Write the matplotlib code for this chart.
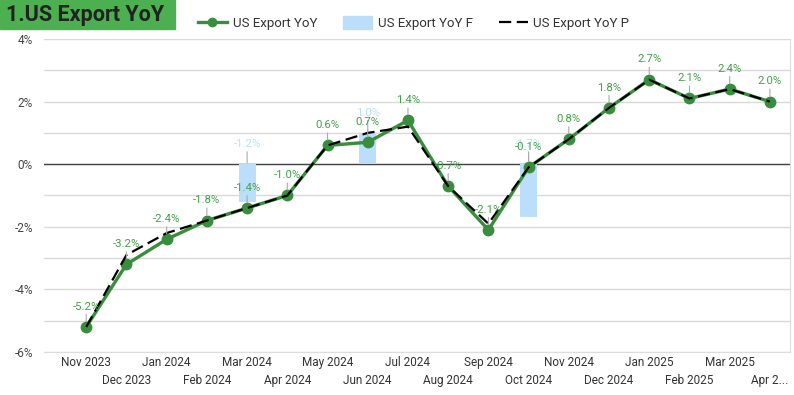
import matplotlib
matplotlib.use("Agg")
import matplotlib.pyplot as plt
from matplotlib.lines import Line2D
from matplotlib.patches import Patch, Rectangle

plt.rcParams['font.family'] = ['Roboto', 'DejaVu Sans']

months = ['Nov 2023', 'Dec 2023', 'Jan 2024', 'Feb 2024', 'Mar 2024',
          'Apr 2024', 'May 2024', 'Jun 2024', 'Jul 2024', 'Aug 2024',
          'Sep 2024', 'Oct 2024', 'Nov 2024', 'Dec 2024', 'Jan 2025',
          'Feb 2025', 'Mar 2025', 'Apr 2...']
export_yoy = [-5.2, -3.2, -2.4, -1.8, -1.4, -1.0, 0.6, 0.7, 1.4, -0.7,
              -2.1, -0.1, 0.8, 1.8, 2.7, 2.1, 2.4, 2.0]
export_yoy_p = [-5.2, -2.9, -2.2, -1.8, -1.4, -1.0, 0.6, 1.0, 1.2, -0.7,
                -1.9, -0.1, 0.8, 1.8, 2.7, 2.1, 2.4, 2.0]
# forecast bars: month index -> value
fc_idx = [4, 7, 11]
fc_val = [-1.2, 1.0, -1.7]

GREEN = '#388e3c'
LABEL_GREEN = '#43a047'
BLUE = '#bbdefb'
W, H = 794, 395

fig = plt.figure(figsize=(W / 100, H / 100), dpi=100)
ax = fig.add_axes([44 / W, 43 / H, (790 - 44) / W, (352 - 39) / H])

x = list(range(len(months)))

ax.bar(fc_idx, fc_val, width=0.42, color=BLUE, zorder=2)
ax.plot(x, export_yoy, color=GREEN, lw=2.4, marker='o', ms=7.5, zorder=4)
ax.plot(x, export_yoy_p, color='black', lw=1.6, ls=(0, (5.5, 2.5)), zorder=5)

# bar labels
for i, v in zip(fc_idx, fc_val):
    ax.annotate('{:.1f}%'.format(v), xy=(i, max(v, 0)), xytext=(0, 11),
                textcoords='offset points', ha='center', va='bottom',
                fontsize=8.2, color=BLUE,
                arrowprops=dict(arrowstyle='-', color='#aaaaaa', lw=0.8,
                                shrinkA=0, shrinkB=1), zorder=3)

# line labels
for i, v in enumerate(export_yoy):
    ax.annotate('{:.1f}%'.format(v), xy=(i, v), xytext=(0, 11),
                textcoords='offset points', ha='center', va='bottom',
                fontsize=8.2, color=LABEL_GREEN,
                arrowprops=dict(arrowstyle='-', color='#aaaaaa', lw=0.8,
                                shrinkA=0, shrinkB=4), zorder=6)

ax.set_xlim(-1.05, 17.5)
ax.set_ylim(-6, 4)
ax.set_yticks(range(-6, 5, 2))
ax.set_yticklabels(['{}%'.format(t) for t in range(-6, 5, 2)])
ax.set_yticks(range(-6, 5), minor=True)
ax.grid(True, which='both', axis='y', color='#d9d9d9', lw=1)
ax.axhline(0, color='#444444', lw=1, zorder=1)
ax.set_axisbelow(True)

# month labels staggered on two rows
ax.set_xticks(x[0::2])
ax.set_xticklabels(months[0::2])
ax.set_xticks(x[1::2], minor=True)
ax.set_xticklabels(months[1::2], minor=True)
ax.tick_params(axis='x', which='major', length=0, labelsize=8.5,
               colors='#333333', pad=3)
ax.tick_params(axis='x', which='minor', length=0, labelsize=8.5,
               colors='#333333', pad=16)
ax.tick_params(axis='y', which='both', length=0, labelsize=8.5,
               colors='#444444', pad=8)
for s in ['top', 'left']:
    ax.spines[s].set_visible(False)
ax.spines['right'].set_color('#dddddd')
ax.spines['bottom'].set_color('#dddddd')

# title box
fig.patches.append(Rectangle((0, (H - 29) / H), 175 / W, 29 / H,
                             transform=fig.transFigure, color='#4caf50',
                             zorder=0))
fig.text(6 / W, (H - 15) / H, '1.US Export YoY', fontsize=15.5,
         fontweight='bold', color='#222222', va='center', ha='left')

handles = [Line2D([], [], color=GREEN, lw=2.4, marker='o', ms=6),
           Patch(color=BLUE),
           Line2D([], [], color='black', lw=1.6, ls=(0, (5.5, 2.5)))]
fig.legend(handles, ['US Export YoY', 'US Export YoY F', 'US Export YoY P'],
           loc='center left', bbox_to_anchor=(186 / W, (H - 23) / H),
           ncol=3, frameon=False, fontsize=9.5, handlelength=2.2,
           handleheight=1.1, columnspacing=1.95, handletextpad=0.45,
           labelcolor='#333333')

fig.savefig('out.png', dpi=100, facecolor='white')
